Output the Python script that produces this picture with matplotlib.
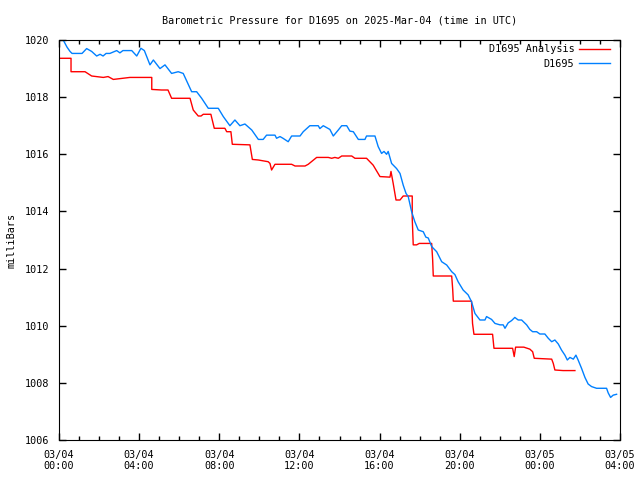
import matplotlib
matplotlib.use("Agg")
import matplotlib.pyplot as plt
from matplotlib.ticker import MultipleLocator

# hours since 2025-03-04 00:00 UTC
blue_hours = [0.05, 0.21, 0.40, 0.55, 0.65, 1.15, 1.38, 1.63, 1.88, 2.05, 2.20, 2.35, 2.54,
              2.88, 3.04, 3.19, 3.63, 3.88, 4.09, 4.26, 4.54, 4.71, 5.04, 5.29, 5.62, 5.95,
              6.20, 6.62, 6.87, 7.12, 7.45, 7.95, 8.20, 8.53, 8.78, 9.03, 9.28, 9.62, 9.95,
              10.19, 10.36, 10.78, 10.86, 11.03, 11.18, 11.44, 11.61, 12.03, 12.19, 12.52,
              12.94, 13.02, 13.19, 13.52, 13.69, 13.94, 14.11, 14.36, 14.52, 14.69, 14.94,
              15.27, 15.35, 15.77, 15.93, 16.10, 16.22, 16.35, 16.43, 16.60, 16.85, 17.02,
              17.18, 17.32, 17.43, 17.60, 17.76, 17.93, 18.18, 18.31, 18.43, 18.60, 18.85,
              19.10, 19.35, 19.60, 19.76, 19.92, 20.17, 20.42, 20.59, 20.76, 21.01, 21.26,
              21.34, 21.59, 21.76, 22.01, 22.17, 22.26, 22.42, 22.59, 22.75, 22.92, 23.09,
              23.34, 23.50, 23.64, 23.84, 24.00, 24.25, 24.42, 24.59, 24.75, 24.92, 25.08,
              25.25, 25.37, 25.50, 25.67, 25.80, 25.91, 26.08, 26.25, 26.41, 26.58, 26.83,
              27.33, 27.41, 27.53, 27.66, 27.83]
blue_mb = [1020.15, 1020.0, 1019.75, 1019.6, 1019.53, 1019.53, 1019.7, 1019.6, 1019.44, 1019.5,
           1019.44, 1019.53, 1019.53, 1019.63, 1019.55, 1019.63, 1019.63, 1019.44, 1019.71,
           1019.63, 1019.13, 1019.3, 1019.0, 1019.13, 1018.83, 1018.89, 1018.83, 1018.19,
           1018.19, 1017.96, 1017.61, 1017.61, 1017.32, 1017.0, 1017.2, 1017.0, 1017.06,
           1016.85, 1016.52, 1016.52, 1016.67, 1016.67, 1016.56, 1016.62, 1016.56, 1016.44,
           1016.64, 1016.64, 1016.79, 1017.0, 1017.0, 1016.9, 1017.0, 1016.87, 1016.64,
           1016.85, 1017.0, 1017.0, 1016.81, 1016.79, 1016.52, 1016.52, 1016.64, 1016.64,
           1016.27, 1016.03, 1016.1, 1016.0, 1016.1, 1015.68, 1015.5, 1015.33, 1014.92,
           1014.63, 1014.52, 1013.99, 1013.64, 1013.35, 1013.29, 1013.1, 1013.07, 1012.77,
           1012.59, 1012.24, 1012.125, 1011.89, 1011.79, 1011.54, 1011.25, 1011.08, 1010.84,
           1010.43, 1010.2, 1010.2, 1010.32, 1010.22, 1010.08, 1010.03, 1010.03, 1009.91,
           1010.1, 1010.18, 1010.29, 1010.2, 1010.2, 1010.03, 1009.87, 1009.79, 1009.79,
           1009.71, 1009.71, 1009.56, 1009.44, 1009.5, 1009.36, 1009.15, 1008.97, 1008.8,
           1008.89, 1008.83, 1008.97, 1008.8, 1008.51, 1008.19, 1007.96, 1007.87, 1007.81,
           1007.81, 1007.65, 1007.49, 1007.57, 1007.6]

red_hours = [0.05, 0.60, 0.60, 1.30, 1.63, 2.21, 2.45, 2.71, 3.54, 4.63, 4.63, 5.12, 5.44,
             5.62, 6.54, 6.70, 6.95, 7.09, 7.20, 7.58, 7.75, 8.28, 8.37, 8.58, 8.65, 9.53,
             9.65, 9.95, 10.44, 10.53, 10.61, 10.78, 11.61, 11.78, 12.28, 12.44, 12.86,
             13.44, 13.61, 13.77, 13.94, 14.11, 14.61, 14.77, 15.35, 15.68, 16.02, 16.52,
             16.57, 16.68, 16.82, 17.02, 17.18, 17.63, 17.63, 17.68, 17.85, 17.98, 18.60,
             18.65, 18.68, 19.60, 19.65, 19.68, 20.59, 20.64, 20.71, 21.64, 21.71, 22.64,
             22.72, 22.79, 23.20, 23.50, 23.64, 23.72, 24.59, 24.67, 24.75, 25.16, 25.75]
red_mb = [1019.36, 1019.36, 1018.89, 1018.89, 1018.74, 1018.69, 1018.72, 1018.62, 1018.69,
          1018.69, 1018.27, 1018.25, 1018.25, 1017.96, 1017.96, 1017.55, 1017.34, 1017.34,
          1017.4, 1017.4, 1016.91, 1016.91, 1016.79, 1016.79, 1016.35, 1016.33, 1015.82,
          1015.8, 1015.74, 1015.68, 1015.45, 1015.65, 1015.65, 1015.59, 1015.59, 1015.65,
          1015.89, 1015.89, 1015.86, 1015.89, 1015.86, 1015.94, 1015.94, 1015.86, 1015.86,
          1015.62, 1015.22, 1015.2, 1015.4, 1014.98, 1014.4, 1014.4, 1014.54, 1014.54,
          1013.76, 1012.83, 1012.83, 1012.88, 1012.88, 1012.3, 1011.74, 1011.74, 1011.27,
          1010.86, 1010.86, 1010.08, 1009.7, 1009.7, 1009.21, 1009.21, 1008.92, 1009.25,
          1009.25, 1009.18, 1009.09, 1008.86, 1008.83, 1008.68, 1008.45, 1008.43, 1008.43]

xtick_hours = [0, 4, 8, 12, 16, 20, 24, 28]
xtick_labels = ["03/04\n00:00", "03/04\n04:00", "03/04\n08:00", "03/04\n12:00",
                "03/04\n16:00", "03/04\n20:00", "03/05\n00:00", "03/05\n04:00"]
yticks = [1006, 1008, 1010, 1012, 1014, 1016, 1018, 1020]

plt.rcParams['font.family'] = ['DejaVu Sans Mono']
plt.rcParams['font.size'] = 7.3

fig = plt.figure(figsize=(6.4, 4.8), dpi=100)
ax = fig.add_axes([59 / 640, 40 / 480, 561 / 640, 400 / 480])

ax.plot(red_hours, red_mb, color="#ff0000", lw=1, label="D1695 Analysis")
ax.plot(blue_hours, blue_mb, color="#0080ff", lw=1, label="D1695")

ax.set_xlim(0, 28)
ax.set_ylim(1006, 1020)
ax.set_xticks(xtick_hours)
ax.set_xticklabels(xtick_labels)
ax.xaxis.set_minor_locator(MultipleLocator(1))
ax.set_yticks(yticks)
ax.tick_params(which="both", direction="in", top=True, right=True, length=5, width=1, pad=7)
ax.tick_params(which="minor", length=3)

ax.set_ylabel("milliBars", labelpad=6)
ax.set_title("Barometric Pressure for D1695 on 2025-Mar-04 (time in UTC)",
             fontsize=7.3, pad=12)

ax.legend(loc="upper right", bbox_to_anchor=(1, 1.015), frameon=False, markerfirst=False,
          handlelength=3.0, borderaxespad=0.6, labelspacing=0.45, handletextpad=0.5,
          fontsize=7.3)

fig.savefig("out.png", dpi=100)
